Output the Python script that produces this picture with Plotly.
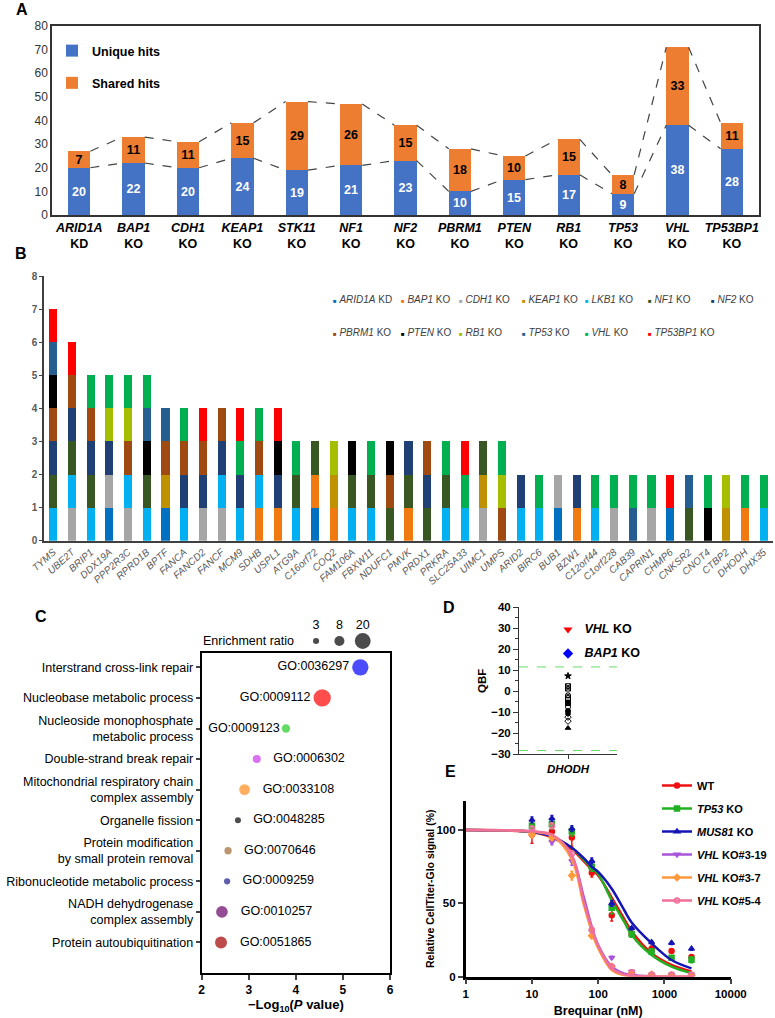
import plotly.graph_objects as go

W, H = 775, 1018
def fx(p):
    return p / W
def fy(p):
    return 1 - p / H

FONT = "Liberation Sans, Arial, Helvetica, sans-serif"

# ---------------- Panel A data ----------------
a_genes = ["ARID1A", "BAP1", "CDH1", "KEAP1", "STK11", "NF1", "NF2", "PBRM1",
           "PTEN", "RB1", "TP53", "VHL", "TP53BP1"]
a_kind = ["KD"] + ["KO"] * 12
a_unique = [20, 22, 20, 24, 19, 21, 23, 10, 15, 17, 9, 38, 28]
a_shared = [7, 11, 11, 15, 29, 26, 15, 18, 10, 15, 8, 33, 11]

# ---------------- Panel B data ----------------
b_genes = ["TYMS", "UBE2T", "BRIP1", "DDX19A", "PPP2R3C", "RPRD1B", "BPTF", "FANCA",
           "FANCD2", "FANCF", "MCM9", "SDHB", "USPL1", "ATG9A", "C16orf72", "COQ2",
           "FAM106A", "FBXW11", "NDUFC1", "PMVK", "PRDX1", "PRKRA", "SLC25A33", "UIMC1",
           "UMPS", "ARID2", "BIRC6", "BUB1", "BZW1", "C12orf44", "C1orf228", "CAB39",
           "CAPRIN1", "CHMP6", "CNKSR2", "CNOT4", "CTBP2", "DHODH", "DHX35"]
b_ko = ["ARID1A", "BAP1", "CDH1", "KEAP1", "LKB1", "NF1", "NF2", "PBRM1", "PTEN",
        "RB1", "TP53", "VHL", "TP53BP1"]
b_kind = ["KD"] + ["KO"] * 12
hits_ARID1A = ["DDX19A", "BPTF", "C16orf72", "BUB1", "CHMP6"]
hits_BAP1 = ["SDHB", "USPL1", "C16orf72", "COQ2", "PMVK", "BZW1", "DHODH"]
hits_CDH1 = ["UBE2T", "DDX19A", "PPP2R3C", "FANCD2", "FANCF", "UIMC1", "BUB1",
             "C1orf228", "CAPRIN1"]
hits_KEAP1 = ["BPTF", "COQ2", "UIMC1", "CTBP2"]
hits_LKB1 = ["TYMS", "UBE2T", "BRIP1", "PPP2R3C", "RPRD1B", "FANCA", "FANCF", "MCM9",
             "SDHB", "ATG9A", "FAM106A", "FBXW11", "PRKRA", "SLC25A33", "ARID2", "BIRC6",
             "C12orf44", "DHX35"]
hits_NF1 = ["TYMS", "UBE2T", "BRIP1", "RPRD1B", "ATG9A", "C16orf72", "FAM106A", "FBXW11",
            "NDUFC1", "PMVK", "PRDX1", "PRKRA", "UIMC1", "CNKSR2"]
hits_NF2 = ["TYMS", "UBE2T", "BRIP1", "DDX19A", "FANCA", "FANCD2", "FANCF", "MCM9",
            "USPL1", "PMVK", "PRDX1", "ARID2", "BZW1"]
hits_PBRM1 = ["TYMS", "UBE2T", "BRIP1", "PPP2R3C", "BPTF", "FANCA", "FANCD2", "FANCF",
              "SDHB", "NDUFC1", "PRDX1", "UMPS"]
hits_PTEN = ["TYMS", "RPRD1B", "USPL1", "FAM106A", "NDUFC1", "CNOT4"]
hits_RB1 = ["DDX19A", "PPP2R3C", "COQ2", "UMPS", "CTBP2"]
hits_TP53 = ["TYMS", "RPRD1B", "BPTF", "CAB39", "CNKSR2"]
hits_VHL = ["BRIP1", "DDX19A", "PPP2R3C", "RPRD1B", "FANCA", "MCM9", "SDHB", "ATG9A",
            "FBXW11", "PRKRA", "SLC25A33", "UMPS", "BIRC6", "C12orf44", "C1orf228", "CAB39",
            "CAPRIN1", "CNOT4", "DHODH", "DHX35"]
hits_TP53BP1 = ["TYMS", "UBE2T", "FANCD2", "MCM9", "USPL1", "SLC25A33", "CHMP6"]
b_hits = [hits_ARID1A, hits_BAP1, hits_CDH1, hits_KEAP1, hits_LKB1, hits_NF1, hits_NF2,
          hits_PBRM1, hits_PTEN, hits_RB1, hits_TP53, hits_VHL, hits_TP53BP1]
b_colors = ["#0070C0", "#F07A10", "#A6A6A6", "#BF9000", "#00B0F0", "#385723", "#203F75",
            "#9E4A10", "#000000", "#A5BF00", "#255E91", "#00B050", "#FF0000"]

# ---------------- Panel C data ----------------
c_terms = ["Interstrand cross-link repair", "Nucleobase metabolic process",
           "Nucleoside monophosphate<br>metabolic process", "Double-strand break repair",
           "Mitochondrial respiratory chain<br>complex assembly", "Organelle fission",
           "Protein modification<br>by small protein removal", "Ribonucleotide metabolic process",
           "NADH dehydrogenase<br>complex assembly", "Protein autoubiquitination"]
c_go = ["GO:0036297", "GO:0009112", "GO:0009123", "GO:0006302", "GO:0033108",
        "GO:0048285", "GO:0070646", "GO:0009259", "GO:0010257", "GO:0051865"]
c_neglogp = [5.37, 4.56, 3.79, 3.17, 2.91, 2.77, 2.56, 2.54, 2.43, 2.41]
c_ratio = [21.1, 23.7, 5.5, 5.1, 9.1, 2.9, 4.2, 3.1, 10.9, 11.4]
c_colors = ["#0000FF", "#FF0000", "#22CC22", "#CC33EE", "#FF8C1A", "#000000",
            "#9C6B30", "#1A1A8C", "#660066", "#A00000"]
c_size_legend = [3, 8, 20]

# ---------------- Panel D data ----------------
d_gene = ["DHODH"]
d_other_qbf = [7.3, 2.4, 1.3, -1.9, -3.0, -4.3, -5.6, -7.5, -9.4, -10.7, -12.3, -14.2, -17.5]
d_vhl_qbf = [29.4]
d_bap1_qbf = [18.0]
d_thresholds = [11.6, -28.2]
d_symbols = ["star", "square-x-open", "square-x-open", "circle-x-open", "square-open",
             "square-open", "square", "circle-open", "circle", "hexagon", "diamond-open",
             "diamond-open", "triangle-up"]

# ---------------- Panel E data ----------------
e_conc = [10, 20, 40, 80, 160, 320, 640, 1280, 2560]
e_fit_conc = [1, 5, 10, 20, 40, 60, 80, 100, 160, 250, 320, 640, 1280, 2560]
e_names = ["WT", "<i>TP53</i> KO", "<i>MUS81</i> KO", "<i>VHL</i> KO#3-19",
           "<i>VHL</i> KO#3-7", "<i>VHL</i> KO#5-4"]
e_WT = [97, 99, 95, 71, 42, 29, 19, 17.5, 13.5]
e_WT_err = [6, 5, 6, 3, 4, 2, 2, 1, 1]
e_WT_fit = [100, 99.5, 98.5, 95, 87, 79, 73, 69, 54, 39, 31, 16, 8, 3.5]
e_TP53 = [103, 104, 99, 75, 47, 29, 17, 13, 11.5]
e_TP53_err = [3, 3, 3, 3, 4, 2, 2, 1, 2]
e_TP53_fit = [100, 99.6, 98.8, 95.5, 88, 80, 74, 70, 52, 37, 28.5, 14.8, 6.8, 2.3]
e_MUS81 = [107, 108, 101, 79, 50, 33, 23.5, 23, 19]
e_MUS81_err = [2, 2, 2, 2, 2, 1, 1, 1, 1]
e_MUS81_fit = [100, 99.6, 98.8, 95.5, 88, 81, 75, 71.5, 60, 45, 37, 22.8, 11.4, 5.7]
e_V319 = [98, 92, 79, 31, 13, 3.5, 1.5, 1.5, 1.5]
e_V319_err = [2, 2, 3, 2, 1, 1, 1, 1, 1]
e_V319_fit = [100, 99.8, 99, 96, 82, 55, 34, 21.6, 6.8, 2, 1.1, 0.2, 0, 0]
e_V37 = [97, 95, 69, 28, 7, 2.5, 1.5, 1, 1]
e_V37_err = [2, 2, 3, 2, 1, 1, 1, 1, 1]
e_V37_fit = [100, 99.8, 99, 96.5, 80, 50, 30.8, 19.4, 4.6, 1, 0.5, 0.1, 0, 0]
e_V54 = [101, 103, 84, 32, 7, 3, 1.5, 1.5, 1.5]
e_V54_err = [2, 2, 2, 2, 1, 1, 1, 1, 1]
e_V54_fit = [100, 99.8, 99.2, 97, 83, 52, 33, 21, 5.7, 1.4, 0.7, 0.1, 0, 0]
e_data = [e_WT, e_TP53, e_MUS81, e_V319, e_V37, e_V54]
e_err = [e_WT_err, e_TP53_err, e_MUS81_err, e_V319_err, e_V37_err, e_V54_err]
e_fit = [e_WT_fit, e_TP53_fit, e_MUS81_fit, e_V319_fit, e_V37_fit, e_V54_fit]
e_colors = ["#EE1111", "#22B022", "#1515B5", "#A855D8", "#FF9A3C", "#F0709A"]
e_symbols = ["circle", "square", "triangle-up", "triangle-down", "diamond", "circle-open"]

fig = go.Figure()

# ---------------- Panel A ----------------
BW_A = 0.41
a_x = list(range(len(a_genes)))
fig.add_trace(go.Bar(x=a_x, y=a_unique, width=BW_A, name="Unique hits",
                     marker=dict(color="#4472C4", line_width=0),
                     text=a_unique, textposition="inside", insidetextanchor="middle",
                     textangle=0, constraintext="none",
                     textfont=dict(color="white", size=12.5, family=FONT, weight="bold"),
                     xaxis="x", yaxis="y", legend="legend", legendgroup="u"))
fig.add_trace(go.Bar(x=a_x, y=a_shared, width=BW_A, name="Shared hits",
                     marker=dict(color="#ED7D31", line_width=0),
                     text=a_shared, textposition="inside", insidetextanchor="middle",
                     textangle=0, constraintext="none",
                     textfont=dict(color="black", size=12.5, family=FONT, weight="bold"),
                     xaxis="x", yaxis="y", legend="legend", legendgroup="s"))
a_total = [u + s for u, s in zip(a_unique, a_shared)]
for series in (a_unique, a_total):
    lx, ly = [], []
    for i in range(len(series) - 1):
        lx += [a_x[i] + BW_A / 2, a_x[i + 1] - BW_A / 2, None]
        ly += [series[i], series[i + 1], None]
    fig.add_trace(go.Scatter(x=lx, y=ly, mode="lines", showlegend=False,
                             line=dict(color="#444444", width=1.2, dash="dash"),
                             hoverinfo="skip", xaxis="x", yaxis="y"))

# ---------------- Panel B ----------------
for name, kind, hits, col in zip(b_ko, b_kind, b_hits, b_colors):
    vals = [1 if g in hits else 0 for g in b_genes]
    fig.add_trace(go.Bar(x=b_genes, y=vals, width=0.43, name=f"{name} {kind}",
                         marker=dict(color=col, line_width=0), showlegend=False,
                         xaxis="x2", yaxis="y2"))

# ---------------- Panel C ----------------
C_SIZEREF = 2 / 3.55 ** 2
c_y = list(range(len(c_terms)))
c_textpos = ["middle left"] * 3 + ["middle right"] * 7
c_text = [g if i < 3 else "\u00a0\u00a0\u00a0" + g for i, g in enumerate(c_go)]
fig.add_trace(go.Scatter(x=c_neglogp, y=c_y, mode="markers+text", text=c_text,
                         textposition=c_textpos, cliponaxis=False, showlegend=False,
                         textfont=dict(size=12.5, color="black", family=FONT),
                         marker=dict(size=c_ratio, sizemode="area", sizeref=C_SIZEREF,
                                     color=c_colors, line_width=0),
                         xaxis="x3", yaxis="y3"))
fig.add_trace(go.Scatter(x=[str(v) for v in c_size_legend], y=[0] * 3, mode="markers",
                         showlegend=False, cliponaxis=False,
                         marker=dict(size=c_size_legend, sizemode="area", sizeref=C_SIZEREF,
                                     color="black", line_width=0),
                         xaxis="x4", yaxis="y4"))

# ---------------- Panel D ----------------
fig.add_trace(go.Scatter(x=d_gene * len(d_other_qbf), y=d_other_qbf, mode="markers",
                         showlegend=False,
                         marker=dict(symbol=d_symbols, size=5, color="black",
                                     line=dict(color="black", width=1)),
                         xaxis="x5", yaxis="y5"))
NB = "\u00a0\u00a0\u00a0"
fig.add_trace(go.Scatter(x=d_gene, y=d_vhl_qbf, mode="markers+text",
                         text=[NB + "<b><i>VHL</i> KO</b>"], textposition="middle right",
                         textfont=dict(size=12.5, color="black", family=FONT),
                         cliponaxis=False, showlegend=False,
                         marker=dict(symbol="triangle-down", size=8, color="#FF0000"),
                         xaxis="x5", yaxis="y5"))
fig.add_trace(go.Scatter(x=d_gene, y=d_bap1_qbf, mode="markers+text",
                         text=[NB + "<b><i>BAP1</i> KO</b>"], textposition="middle right",
                         textfont=dict(size=12.5, color="black", family=FONT),
                         cliponaxis=False, showlegend=False,
                         marker=dict(symbol="diamond", size=8, color="#0000FF"),
                         xaxis="x5", yaxis="y5"))

# ---------------- Panel E ----------------
for name, yv, ev, fv, col, sym in zip(e_names, e_data, e_err, e_fit, e_colors, e_symbols):
    fig.add_trace(go.Scatter(x=e_fit_conc, y=fv, mode="lines", line_shape="spline",
                             line=dict(color=col, width=2.5), showlegend=False,
                             hoverinfo="skip", xaxis="x6", yaxis="y6"))
    fig.add_trace(go.Scatter(x=e_conc, y=yv, mode="markers", showlegend=False,
                             marker=dict(symbol=sym, size=5, color=col,
                                         line=dict(color=col, width=1.5)),
                             error_y=dict(type="data", array=ev, color=col,
                                          thickness=1.5, width=1.5),
                             cliponaxis=False, xaxis="x6", yaxis="y6"))
    fig.add_trace(go.Scatter(x=[None], y=[None], mode="lines+markers", name=name,
                             line=dict(color=col, width=2.5),
                             marker=dict(symbol=sym, size=5, color=col,
                                         line=dict(color=col, width=1.5)),
                             legend="legend2", legendgroup=name, xaxis="x6", yaxis="y6"))

# ---------------- Layout ----------------
axis_common = dict(showgrid=False, zeroline=False, automargin=False)
a_ticktext = [f"<b><i>{g}</i><br>{k}</b>" for g, k in zip(a_genes, a_kind)]

layout = dict(
    width=W, height=H, margin=dict(l=0, r=0, t=0, b=0, autoexpand=False),
    paper_bgcolor="white", plot_bgcolor="white",
    font=dict(family=FONT, color="black", size=12),
    barmode="stack", bargap=0,
    # A
    xaxis=dict(domain=[fx(52), fx(759)], anchor="y", range=[-0.5, 12.5],
               tickvals=a_x, ticktext=a_ticktext, ticks="",
               tickfont=dict(size=12.5, color="black"),
               showline=True, mirror=True, linecolor="#333333", linewidth=1.5,
               **axis_common),
    yaxis=dict(domain=[fy(215), fy(26)], anchor="x", range=[0, 80], dtick=10,
               tickfont=dict(size=12, color="#333333"), ticks="",
               showline=True, mirror=True, linecolor="#333333", linewidth=1.5,
               **axis_common),
    # B
    xaxis2=dict(domain=[fx(44), fx(773)], anchor="y2", range=[-0.5, len(b_genes) - 0.5],
                tickangle=-42, ticks="",
                tickfont=dict(size=10, color="#595959", style="italic"),
                showline=True, linecolor="#404040", linewidth=1.5, **axis_common),
    yaxis2=dict(domain=[fy(540.7), fy(276)], anchor="x2", range=[0, 8], dtick=1,
                ticks="outside", ticklen=3, tickcolor="#404040",
                tickfont=dict(size=10, color="#595959", weight="bold"),
                showline=True, linecolor="#404040", linewidth=1.5, **axis_common),
    # C
    xaxis3=dict(domain=[fx(201.7), fx(390)], anchor="y3", range=[2, 6], dtick=1,
                ticks="outside", ticklen=5, tickwidth=2,
                tickfont=dict(size=12, weight="bold"),
                title=dict(text="<b>\u2212Log<sub>10</sub>(<i>P</i> value)</b>",
                           font=dict(size=13), standoff=2),
                showline=True, mirror=True, linecolor="black", linewidth=2, **axis_common),
    yaxis3=dict(domain=[fy(972.7), fy(652.7)], anchor="x3", range=[9.99, -0.48],
                tickvals=c_y, ticktext=c_terms, ticks="outside", ticklen=4, tickwidth=2,
                tickfont=dict(size=12.5),
                showline=True, mirror=True, linecolor="black", linewidth=2, **axis_common),
    xaxis4=dict(domain=[fx(304.4), fx(374.4)], anchor="y4", side="top", type="category",
                range=[-0.5, 2.5], ticks="", showline=False, tickfont=dict(size=12.5),
                **axis_common),
    yaxis4=dict(domain=[fy(650), fy(632)], anchor="x4", range=[-1, 1], visible=False,
                **axis_common),
    # D
    xaxis5=dict(domain=[fx(519), fx(617)], anchor="y5", type="category", range=[-0.5, 0.5],
                ticks="outside", ticklen=4, tickwidth=1, tickcolor="#333333",
                ticktext=["<b><i>DHODH</i></b>"], tickvals=d_gene,
                tickfont=dict(size=11.5),
                showline=True, linecolor="#333333", linewidth=1, **axis_common),
    yaxis5=dict(domain=[fy(754.3), fy(607.3)], anchor="x5", range=[-30, 40], dtick=10,
                ticks="outside", ticklen=5, tickwidth=1, tickcolor="#333333",
                minor=dict(ticks="outside", ticklen=3, dtick=5, tickcolor="#333333"),
                tickfont=dict(size=11.5, weight="bold"),
                title=dict(text="<b>QBF</b>", font=dict(size=11.5), standoff=2),
                showline=True, linecolor="#333333", linewidth=1, **axis_common),
    # E
    xaxis6=dict(domain=[fx(465.7), fx(730.7)], anchor="y6", type="log", range=[0, 4],
                tickvals=[1, 10, 100, 1000, 10000], ticktext=["1", "10", "100", "1000", "10000"],
                ticks="outside", ticklen=5, tickwidth=2,
                tickfont=dict(size=11.5, weight="bold"),
                title=dict(text="<b>Brequinar (nM)</b>", font=dict(size=12.5), standoff=8),
                showline=True, linecolor="black", linewidth=2.5, **axis_common),
    yaxis6=dict(domain=[fy(976.7), fy(800.8)], anchor="x6", range=[0, 120],
                tickvals=[0, 50, 100], ticks="outside", ticklen=5, tickwidth=2,
                tickfont=dict(size=11.5, weight="bold"),
                title=dict(text="<b>Relative CellTiter-Glo signal (%)</b>",
                           font=dict(size=10.5), standoff=0),
                showline=True, linecolor="black", linewidth=2.5, **axis_common),
    legend=dict(x=fx(52), y=fy(36), xanchor="left", yanchor="top",
                font=dict(size=12.5, weight="bold"), bgcolor="rgba(0,0,0,0)",
                traceorder="grouped", tracegroupgap=13),
    legend2=dict(x=fx(657), y=fy(771), xanchor="left", yanchor="top",
                 font=dict(size=11, weight="bold"), bgcolor="rgba(0,0,0,0)",
                 traceorder="grouped", tracegroupgap=4),
)
fig.update_layout(**layout)

# threshold lines in D
for t in d_thresholds:
    fig.add_shape(type="line", xref="x5 domain", yref="y5", x0=0, x1=1, y0=t, y1=t,
                  line=dict(color="#66DD66", width=1, dash="dash"))

# Panel B legend (manual, compact)
b_leg_x = [333.3, 401.7, 459.3, 522.3, 585.7, 648.3, 711.7]
b_leg_y = [299, 332]
annotations = []
for i, (name, kind, col) in enumerate(zip(b_ko, b_kind, b_colors)):
    r, c = divmod(i, 7)
    annotations.append(dict(
        x=fx(b_leg_x[c] - 2.5), y=fy(b_leg_y[r]), xref="paper", yref="paper",
        xanchor="left", yanchor="middle", showarrow=False,
        text=f"<span style='color:{col};font-size:6px'>\u25A0</span> <i>{name}</i> {kind}",
        font=dict(size=10, color="#404040", family=FONT)))

# "Enrichment ratio" label for the size legend
annotations.append(dict(x=fx(296), y=fy(641), xref="paper", yref="paper", xanchor="right",
                        yanchor="middle", showarrow=False, text="Enrichment ratio",
                        font=dict(size=12.5, color="black")))

# Panel letters
for letter, (px_, py_) in {"A": (22, 10), "B": (21, 253.5), "C": (41, 616),
                           "D": (449.5, 607), "E": (450, 771.5)}.items():
    annotations.append(dict(x=fx(px_), y=fy(py_), xref="paper", yref="paper",
                            xanchor="center", yanchor="middle", showarrow=False,
                            text=f"<b>{letter}</b>", font=dict(size=16, color="black")))
fig.update_layout(annotations=annotations)

fig.write_html("out.html", config={"displayModeBar": False},
               post_script="document.body.style.margin='0';"
                           "document.body.style.overflow='hidden';")
